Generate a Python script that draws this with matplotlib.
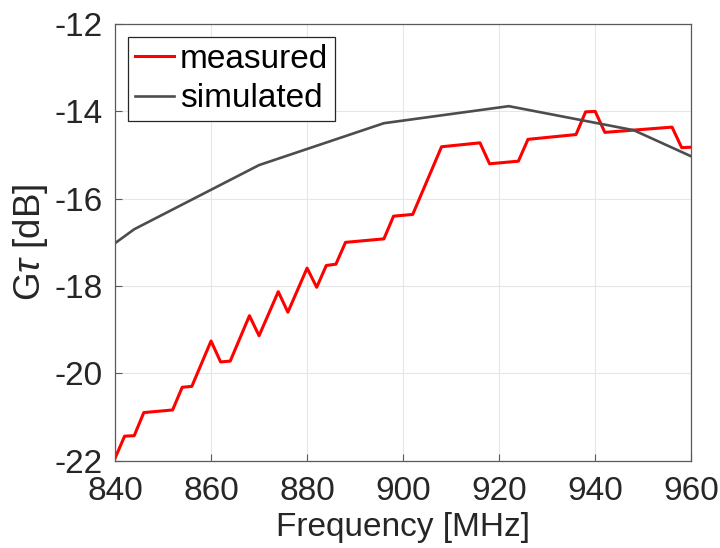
import matplotlib
matplotlib.use("Agg")
import matplotlib.pyplot as plt

plt.rcParams['font.family'] = ['Liberation Sans', 'DejaVu Sans']
plt.rcParams['mathtext.fontset'] = 'custom'
plt.rcParams['mathtext.rm'] = 'Liberation Sans'
plt.rcParams['mathtext.it'] = 'Liberation Sans:italic'

meas_freq = [840, 842, 844, 846, 852, 854, 856, 860, 862, 864, 868, 870, 874, 876,
             880, 882, 884, 886, 888, 896, 898, 902, 908, 916, 918, 924, 926, 936,
             938, 940, 942, 956, 958, 960]
meas_gain = [-21.95, -21.44, -21.43, -20.90, -20.84, -20.32, -20.30, -19.26, -19.74,
             -19.72, -18.68, -19.14, -18.13, -18.60, -17.59, -18.03, -17.53, -17.50,
             -17.00, -16.92, -16.40, -16.36, -14.81, -14.72, -15.20, -15.14, -14.64,
             -14.53, -14.01, -14.00, -14.48, -14.36, -14.83, -14.82]

sim_freq = [840, 844, 870, 896, 922, 948, 960]
sim_gain = [-17.02, -16.70, -15.23, -14.27, -13.88, -14.43, -15.03]

xticks = [840, 860, 880, 900, 920, 940, 960]
yticks = [-22, -20, -18, -16, -14, -12]

fig = plt.figure(figsize=(7.2, 5.48), dpi=100)
ax = fig.add_axes([0.1597, 0.1595, 0.8004, 0.7965])

ax.plot(meas_freq, meas_gain, color='#ff0000', lw=2.2, label='measured')
ax.plot(sim_freq, sim_gain, color='#4d4d4d', lw=1.9, label='simulated')

ax.set_xlim(840, 960)
ax.set_ylim(-22, -12)
ax.set_xticks(xticks)
ax.set_yticks(yticks)
ax.set_yticklabels([str(t) for t in yticks])
ax.grid(True, color='#e6e6e6', lw=0.8)
ax.set_axisbelow(True)
for s in ax.spines.values():
    s.set_color('#5a5a5a')
    s.set_linewidth(0.9)
ax.tick_params(direction='in', length=5, width=0.8, color='#5a5a5a',
               labelsize=24, labelcolor='#262626')
ax.tick_params(axis='x', pad=11)
ax.tick_params(axis='y', pad=9)

ax.set_xlabel('Frequency [MHz]', fontsize=24, color='#262626', labelpad=4)
ax.set_ylabel(r'G$\tau$ [dB]', fontsize=26.5, color='#262626', labelpad=3)

leg = ax.legend(loc='upper left', fontsize=24, frameon=True, fancybox=False,
                edgecolor='#262626', handlelength=1.18, handletextpad=0.17,
                borderpad=0.2, labelspacing=0.25, borderaxespad=0.4,
                framealpha=1)
leg.get_frame().set_linewidth(0.9)

fig.savefig('out.png', dpi=100)
